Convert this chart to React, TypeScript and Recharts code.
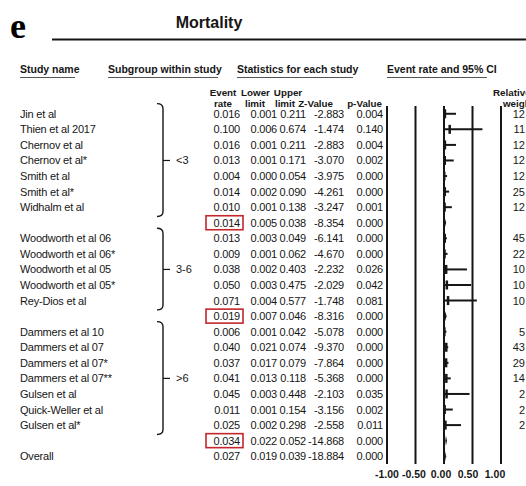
import * as RC from 'recharts';
import { ScatterChart, Scatter, XAxis, YAxis, CartesianGrid, ErrorBar } from 'recharts';

const studyNames = [
  'Jin et al', 'Thien et al 2017', 'Chernov et al', 'Chernov et al*', 'Smith et al', 'Smith et al*', 'Widhalm et al', '',
  'Woodworth et al 06', 'Woodworth et al 06*', 'Woodworth et al 05', 'Woodworth et al 05*', 'Rey-Dios et al', '',
  'Dammers et al 10', 'Dammers et al 07', 'Dammers et al 07*', 'Dammers et al 07**', 'Gulsen et al', 'Quick-Weller et al', 'Gulsen et al*', '',
  'Overall',
];
const rowKinds = [
  'study', 'study', 'study', 'study', 'study', 'study', 'study', 'sub',
  'study', 'study', 'study', 'study', 'study', 'sub',
  'study', 'study', 'study', 'study', 'study', 'study', 'study', 'sub',
  'overall',
];
const eventRate = [0.016, 0.1, 0.016, 0.013, 0.004, 0.014, 0.01, 0.014, 0.013, 0.009, 0.038, 0.05, 0.071, 0.019, 0.006, 0.04, 0.037, 0.041, 0.045, 0.011, 0.025, 0.034, 0.027];
const lowerLimit = [0.001, 0.006, 0.001, 0.001, 0.0, 0.002, 0.001, 0.005, 0.003, 0.001, 0.002, 0.003, 0.004, 0.007, 0.001, 0.021, 0.017, 0.013, 0.003, 0.001, 0.002, 0.022, 0.019];
const upperLimit = [0.211, 0.674, 0.211, 0.171, 0.054, 0.09, 0.138, 0.038, 0.049, 0.062, 0.403, 0.475, 0.577, 0.046, 0.042, 0.074, 0.079, 0.118, 0.448, 0.154, 0.298, 0.052, 0.039];
const zValue = [-2.883, -1.474, -2.883, -3.07, -3.975, -4.261, -3.247, -8.354, -6.141, -4.67, -2.232, -2.029, -1.748, -8.316, -5.078, -9.37, -7.864, -5.368, -2.103, -3.156, -2.558, -14.868, -18.884];
const pValue = [0.004, 0.14, 0.004, 0.002, 0.0, 0.0, 0.001, 0.0, 0.0, 0.0, 0.026, 0.042, 0.081, 0.0, 0.0, 0.0, 0.0, 0.0, 0.035, 0.002, 0.011, 0.0, 0.0];
// only the part of the weight column that is visible before the crop
const relWeight = [12, 11, 12, 12, 12, 25, 12, null, 45, 22, 10, 10, 10, null, 5, 43, 29, 14, 2, 2, 2, null, null];

const groupLabels = ['<3', '3-6', '>6'];
const groupFirstRow = [0, 8, 14];
const groupLastRow = [6, 12, 20];

const xTicks = [-1, -0.5, 0, 0.5, 1];

const rows = studyNames.map((name, i) => ({
  row: i,
  name,
  kind: rowKinds[i],
  rate: eventRate[i],
  lo: lowerLimit[i],
  hi: upperLimit[i],
  z: zValue[i],
  p: pValue[i],
  w: relWeight[i],
  err: [eventRate[i] - lowerLimit[i], upperLimit[i] - eventRate[i]],
}));
const studyRows = rows.filter((r) => r.kind === 'study');
const summaryRows = rows.filter((r) => r.kind !== 'study');

const X_DOMAIN = [-1, 1];
const Y_DOMAIN = [-0.5, 22.5];
const rowTicks = rows.map((r) => r.row);

const INK = '#161616';
const RED = '#c3262c';
const SANS = '"Liberation Sans", Arial, sans-serif';
const COL_END = [240, 277, 306, 344, 383];

function useScales() {
  const anyRC = RC as any;
  const xs = anyRC.useXAxisScale ? anyRC.useXAxisScale() : undefined;
  const ys = anyRC.useYAxisScale ? anyRC.useYAxisScale() : undefined;
  const plot = anyRC.usePlotArea ? anyRC.usePlotArea() : undefined;
  if (typeof xs === 'function' && typeof ys === 'function') {
    return { x: (v: number) => xs(v) as number, y: (v: number) => ys(v) as number };
  }
  if (!plot) return null;
  return {
    x: (v: number) => plot.x + ((v - X_DOMAIN[0]) / (X_DOMAIN[1] - X_DOMAIN[0])) * plot.width,
    y: (v: number) => plot.y + ((v - Y_DOMAIN[0]) / (Y_DOMAIN[1] - Y_DOMAIN[0])) * plot.height,
  };
}

function RowTick(props: any) {
  const { y, payload } = props;
  const r = rows[payload.value];
  if (!r) return null;
  const ty = y + 4;
  const nums = [r.rate, r.lo, r.hi, r.z, r.p].map((v) => v.toFixed(3));
  return (
    <g fontFamily={SANS} fontSize={11} fill={INK}>
      {r.name && (
        <text x={20} y={ty} letterSpacing={-0.2}>
          {r.name}
        </text>
      )}
      {nums.map((s, k) => (
        <text key={k} x={COL_END[k]} y={ty} textAnchor="end" letterSpacing={-0.2}>
          {s}
        </text>
      ))}
      {r.kind === 'sub' && (
        <rect x={206} y={y - 7} width={37} height={14} fill="none" stroke={RED} strokeWidth={1.6} />
      )}
      {r.w != null && (
        <text x={525} y={ty} textAnchor="end">
          {r.w}
        </text>
      )}
    </g>
  );
}

function XTick(props: any) {
  const { x, y, payload } = props;
  // labels in the original sit a little left of their lines, more so towards the right
  const shift = -(Number(payload.value) + 1) * 3;
  return (
    <text x={x + shift} y={y + 14} textAnchor="middle" fontFamily={SANS} fontSize={10.5} fontWeight="bold" fill={INK}>
      {Number(payload.value).toFixed(2)}
    </text>
  );
}

function StudyMark(props: any) {
  const { cx, cy } = props;
  return <rect x={cx - 1.25} y={cy - 4.5} width={2.5} height={9} fill={INK} />;
}

function SummaryMark(props: any) {
  const s = useScales();
  const { cx, cy, payload } = props;
  const left = s ? s.x(payload.lo) : cx - 2;
  const right = s ? s.x(payload.hi) : cx + 2;
  return <polygon points={`${left},${cy} ${cx},${cy - 5} ${right},${cy} ${cx},${cy + 5}`} fill={INK} />;
}

function Braces() {
  const s = useScales();
  if (!s) return null;
  const bx = 163;
  return (
    <g>
      {groupLabels.map((label, i) => {
        const top = s.y(groupFirstRow[i] - 0.65);
        const bot = s.y(groupLastRow[i] + 0.6);
        const mid = s.y((groupFirstRow[i] + groupLastRow[i]) / 2);
        const d = `M ${bx - 6} ${top} Q ${bx} ${top} ${bx} ${top + 5} L ${bx} ${bot - 5} Q ${bx} ${bot} ${bx - 6} ${bot}`;
        return (
          <g key={label}>
            <path d={d} fill="none" stroke={INK} strokeWidth={1.4} />
            <line x1={bx} x2={bx + 7} y1={mid} y2={mid} stroke={INK} strokeWidth={1.2} />
            <text x={bx + 13} y={mid + 4} fontFamily={SANS} fontSize={11} fill={INK}>
              {label}
            </text>
          </g>
        );
      })}
    </g>
  );
}

function Header() {
  const hb = { fontFamily: SANS, fontSize: 10.5, fontWeight: 'bold' as const, fill: INK };
  const sub = { fontFamily: SANS, fontSize: 9.8, fontWeight: 'bold' as const, fill: INK };
  return (
    <g>
      <text x={10} y={38} fontFamily='"Liberation Serif", "Times New Roman", serif' fontSize={36} fontWeight="bold" fill="#000">
        e
      </text>
      <text x={209} y={28} textAnchor="middle" fontFamily={SANS} fontSize={16} fontWeight="bold" fill={INK}>
        Mortality
      </text>
      <line x1={52} x2={526} y1={39.5} y2={39.5} stroke={INK} strokeWidth={2} />

      <text x={20} y={73} {...hb}>Study name</text>
      <text x={108} y={73} {...hb}>Subgroup within study</text>
      <text x={237} y={73} {...hb}>Statistics for each study</text>
      <text x={387} y={73} {...hb}>Event rate and 95% CI</text>
      <line x1={20} x2={75} y1={77.5} y2={77.5} stroke="#555" strokeWidth={1} />
      <line x1={108} x2={218} y1={77.5} y2={77.5} stroke="#555" strokeWidth={1} />
      <line x1={237} x2={353} y1={77.5} y2={77.5} stroke="#555" strokeWidth={1} />
      <line x1={387} x2={487} y1={77.5} y2={77.5} stroke="#555" strokeWidth={1} />

      <text x={223} y={96} textAnchor="middle" {...sub}>Event</text>
      <text x={255.5} y={96} textAnchor="middle" {...sub}>Lower</text>
      <text x={288} y={96} textAnchor="middle" {...sub}>Upper</text>
      <text x={493} y={96} {...sub}>Relative</text>
      <text x={223} y={107} textAnchor="middle" {...sub}>rate</text>
      <text x={255} y={107} textAnchor="middle" {...sub}>limit</text>
      <text x={285} y={107} textAnchor="middle" {...sub}>limit</text>
      <text x={333} y={107} textAnchor="end" {...sub}>Z-Value</text>
      <text x={382} y={107} textAnchor="end" {...sub}>p-Value</text>
      <text x={503} y={107} {...sub}>weight</text>
    </g>
  );
}

export default function App() {
  return (
    <div style={{ position: 'fixed', left: 0, top: 0, width: 526, height: 486, overflow: 'hidden', background: '#fff' }}>
      <ScatterChart width={526} height={486} margin={{ top: 106, right: 25, bottom: 0, left: 0 }}>
        <CartesianGrid horizontal={false} stroke={INK} strokeWidth={2} />
        <XAxis
          type="number"
          dataKey="rate"
          domain={X_DOMAIN}
          ticks={xTicks}
          interval={0}
          axisLine={false}
          tickLine={false}
          tickSize={0}
          tickMargin={0}
          height={22}
          tick={<XTick />}
        />
        <YAxis
          type="number"
          dataKey="row"
          domain={Y_DOMAIN}
          ticks={rowTicks}
          interval={0}
          reversed
          axisLine={false}
          tickLine={false}
          tickSize={0}
          width={387}
          tick={<RowTick />}
        />
        <Scatter data={studyRows} shape={<StudyMark />} isAnimationActive={false}>
          <ErrorBar dataKey="err" direction="x" width={0} stroke={INK} strokeWidth={2} isAnimationActive={false} />
        </Scatter>
        <Scatter data={summaryRows} shape={<SummaryMark />} isAnimationActive={false} />
        <Header />
        <Braces />
      </ScatterChart>
    </div>
  );
}
